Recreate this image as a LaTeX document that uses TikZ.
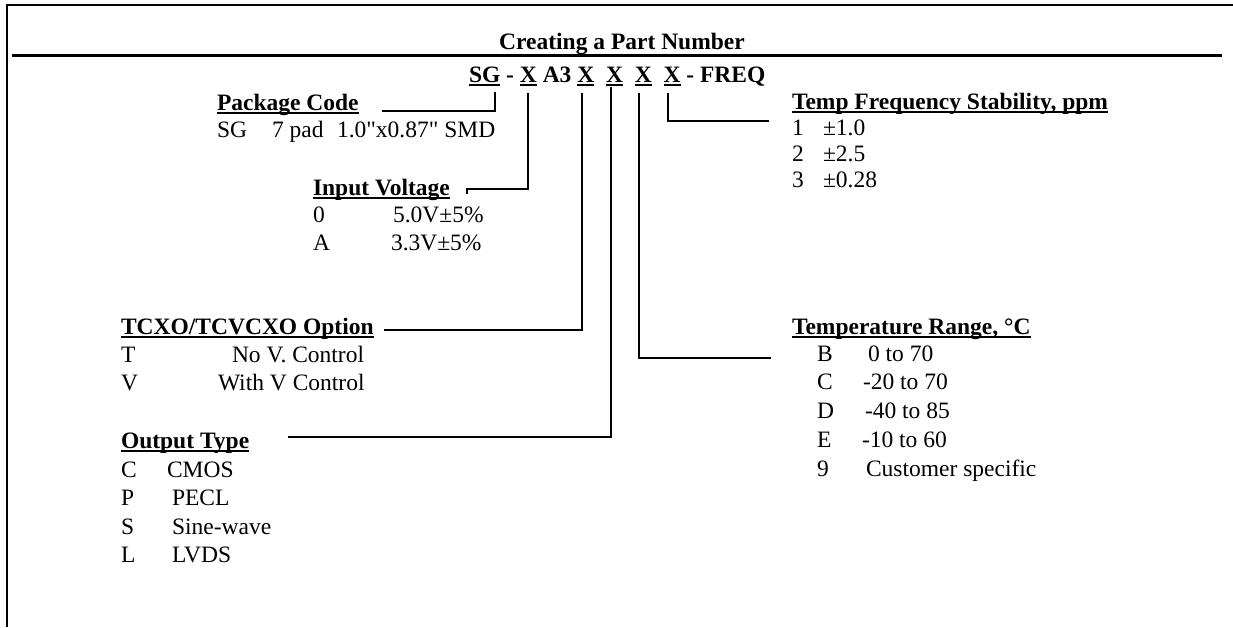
\documentclass[tikz,border=0pt]{standalone}
\usepackage{fontspec}
\setmainfont{Liberation Serif}[Ligatures=TeXOff]
\newcommand{\myul}[1]{\setbox0\hbox{#1}\rlap{\rule[-3.8pt]{\wd0}{2pt}}\box0}
\begin{document}
\begin{tikzpicture}[x=1pt,y=-1pt,
  txt/.style={inner sep=0pt, outer sep=0pt, anchor=base west, font=\fontsize{23.5}{27.5}\selectfont},
  hd/.style={txt, font=\fontsize{23.5}{27.5}\selectfont\bfseries},
  conn/.style={line width=2pt, line cap=rect},
  frame/.style={line width=2.3pt}]
\useasboundingbox (0,0) rectangle (1233,627);
% frame
\draw[frame] (7,627) -- (7,5) -- (1233,5);
\draw[line width=3pt] (12,55) -- (1222,55);
% title
\node[hd, anchor=base] (title) at (622,49) {Creating a Part Number};
% part number row
\node[hd] (sg) at (469,82) {\myul{SG}};
\node[hd] (d1) at (sg.base east) {\ -\ \null};
\node[hd] (x1) at (d1.base east) {\myul{X}};
\node[hd] (a3) at (x1.base east) {\ A3\ \null};
\node[hd] (x2) at (a3.base east) {\myul{X}};
\node[hd] (x3) at ([xshift=11.75pt]x2.base east) {\myul{X}};
\node[hd] (x4) at ([xshift=11.75pt]x3.base east) {\myul{X}};
\node[hd] (x5) at ([xshift=11.75pt]x4.base east) {\myul{X}};
\node[hd] (fq) at (x5.base east) {\ - FREQ};
% package code
\node[hd] (pc) at (217,110) {\myul{Package Code}};
\node[txt] (pc1a) at (217,137) {SG};
\node[txt] (pc1b) at (272,137) {7 pad};
\node[txt] (pc1c) at (337,137) {1.0"x0.87" SMD};
% input voltage
\node[hd] (iv) at (313,195) {\myul{Input Voltage}};
\node[txt] (iv1a) at (313,222) {0};
\node[txt] (iv1b) at (393,222) {5.0V±5\%};
\node[txt] (iv2a) at (313,250) {A};
\node[txt] (iv2b) at (391,250) {3.3V±5\%};
% temp frequency stability
\node[hd] (tf) at (792,109) {\myul{Temp Frequency Stability, ppm}};
\node[txt] (tf1a) at (792,135) {1};
\node[txt] (tf1b) at (823,135) {±1.0};
\node[txt] (tf2a) at (792,161) {2};
\node[txt] (tf2b) at (823,161) {±2.5};
\node[txt] (tf3a) at (792,187) {3};
\node[txt] (tf3b) at (823,187) {±0.28};
% TCXO option
\node[hd] (tc) at (121,334) {\myul{TCXO/TCVCXO Option}};
\node[txt] (tc1a) at (121,362) {T};
\node[txt] (tc1b) at (232,362) {No V. Control};
\node[txt] (tc2a) at (121,390) {V};
\node[txt] (tc2b) at (218,390) {With V Control};
% output type
\node[hd] (ot) at (121,448) {\myul{Output Type}};
\node[txt] (ot1a) at (121,477) {C};
\node[txt] (ot1b) at (167,477) {CMOS};
\node[txt] (ot2a) at (121,505) {P};
\node[txt] (ot2b) at (172,505) {PECL};
\node[txt] (ot3a) at (121,534) {S};
\node[txt] (ot3b) at (172,534) {Sine-wave};
\node[txt] (ot4a) at (121,562) {L};
\node[txt] (ot4b) at (172,562) {LVDS};
% temperature range
\node[hd] (tr) at (792,334) {\myul{Temperature Range, °C}};
\node[txt] (tr1a) at (817,361) {B};
\node[txt] (tr1b) at (868,361) {0 to 70};
\node[txt] (tr2a) at (817,389) {C};
\node[txt] (tr2b) at (863,389) {-20 to 70};
\node[txt] (tr3a) at (817,418) {D};
\node[txt] (tr3b) at (865,418) {-40 to 85};
\node[txt] (tr4a) at (817,447) {E};
\node[txt] (tr4b) at (862,447) {-10 to 60};
\node[txt] (tr5a) at (817,476) {9};
\node[txt] (tr5b) at (866,476) {Customer specific};
% connector ends
\coordinate (pcx) at (383,111);
\coordinate (ivx) at (467,189);
\coordinate (tcx) at (385,330);
\coordinate (otx) at (289,437);
\coordinate (trx) at (770,358);
\coordinate (tfx) at (768,121);
% connectors
\draw[conn] ([xshift=-5pt,yshift=-7pt]sg.south east) |- (pcx);
\draw[conn] ([yshift=-8.5pt]x1.south) |- (ivx) -- ([yshift=-4pt]ivx);
\draw[conn] ([xshift=-4pt,yshift=-8.5pt]x2.south) |- (tcx);
\draw[conn] ([xshift=-4pt,yshift=-2.5pt]x3.south) |- (otx);
\draw[conn] ([xshift=-4pt,yshift=-8.5pt]x4.south) |- (trx);
\draw[conn] ([xshift=-4pt,yshift=-8.5pt]x5.south) |- (tfx);
\end{tikzpicture}
\end{document}
